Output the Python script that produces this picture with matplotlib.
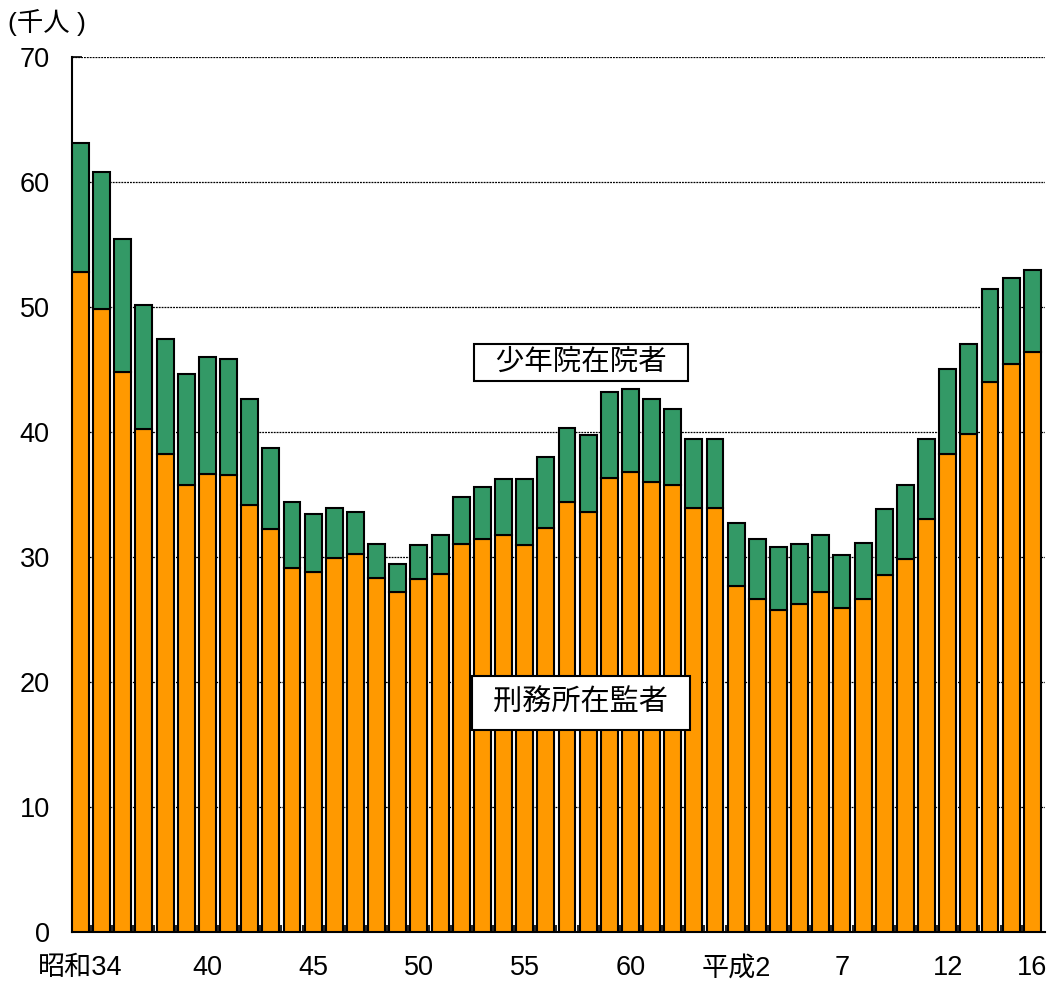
import matplotlib
matplotlib.use("Agg")
import matplotlib.pyplot as plt
import numpy as np

plt.rcParams['font.family'] = ['Liberation Sans', 'Noto Sans CJK JP', 'DejaVu Sans']

years = ["昭和34", "35", "36", "37", "38", "39", "40", "41", "42", "43", "44", "45", "46", "47", "48",
         "49", "50", "51", "52", "53", "54", "55", "56", "57", "58", "59", "60", "61", "62", "63",
         "平成元", "平成2", "3", "4", "5", "6", "7", "8", "9", "10", "11", "12", "13", "14", "15", "16"]

prison = [52.8, 49.8, 44.8, 40.2, 38.2, 35.7, 36.6, 36.5, 34.1, 32.2, 29.1, 28.8, 29.9, 30.2, 28.3,
          27.2, 28.2, 28.6, 31.0, 31.4, 31.7, 30.9, 32.3, 34.4, 33.6, 36.3, 36.8, 36.0, 35.7, 33.9,
          33.9, 27.65, 26.6, 25.7, 26.2, 27.2, 25.9, 26.6, 28.5, 29.8, 33.0, 38.25, 39.85, 44.0, 45.45, 46.4]

total = [63.1, 60.8, 55.4, 50.1, 47.4, 44.6, 45.95, 45.8, 42.6, 38.7, 34.4, 33.4, 33.9, 33.6, 31.0,
         29.4, 30.9, 31.7, 34.75, 35.55, 36.2, 36.2, 37.95, 40.3, 39.7, 43.2, 43.4, 42.6, 41.8, 39.4,
         39.4, 32.7, 31.4, 30.75, 31.0, 31.7, 30.1, 31.1, 33.8, 35.7, 39.4, 45.0, 47.05, 51.4, 52.3, 52.96]

juvenile = [t - p for t, p in zip(total, prison)]

tick_labels = {0: "昭和34", 6: "40", 11: "45", 16: "50", 21: "55", 26: "60",
               31: "平成2", 36: "7", 41: "12", 45: "16"}

series_names = ["刑務所在監者", "少年院在院者"]

fig = plt.figure(figsize=(10.54, 9.82), dpi=100)
ax = fig.add_axes([72/1054, 1 - 931.7/982, (1045 - 72)/1054, (931.7 - 56.7)/982])

x = np.arange(len(years))
ax.bar(x, prison, width=0.8, color="#FF9900", edgecolor="black", linewidth=1.5, zorder=3)
ax.bar(x, juvenile, bottom=prison, width=0.8, color="#339966", edgecolor="black", linewidth=1.5, zorder=3)

ax.set_xlim(-0.4, len(years) - 0.4)
ax.set_ylim(0, 70)
ax.set_yticks(range(0, 71, 10))
ax.tick_params(axis='y', direction='in', length=7, width=1.2, labelsize=19.5, pad=16)
ax.yaxis.grid(True, linestyle=(0, (1.5, 0.8)), color="black", linewidth=0.9, zorder=0)

ax.set_xticks(list(tick_labels.keys()))
ax.set_xticklabels(list(tick_labels.values()), fontsize=19.5)
ax.tick_params(axis='x', length=0, pad=17)
ax.set_xticks(x[:-1] + 0.5, minor=True)
ax.tick_params(axis='x', which='minor', direction='in', length=5, width=1.2)

for s in ['top', 'right']:
    ax.spines[s].set_visible(False)
for s in ['left', 'bottom']:
    ax.spines[s].set_linewidth(1.5)

ax.text(23.66, 45.55, "  " + series_names[1] + "  ", fontsize=20.5, ha='center', va='center', zorder=5,
        bbox=dict(boxstyle='square,pad=0.2', facecolor='white', edgecolor='black', linewidth=1.5))
ax.text(23.66, 18.3, " " + series_names[0] + " ", fontsize=21, ha='center', va='center', zorder=5,
        bbox=dict(boxstyle='square,pad=0.45', facecolor='white', edgecolor='black', linewidth=1.5))

fig.text(8/1054, 1 - 22/982, "(千人 )", fontsize=19, ha='left', va='center')

fig.savefig("out.png", dpi=100)
